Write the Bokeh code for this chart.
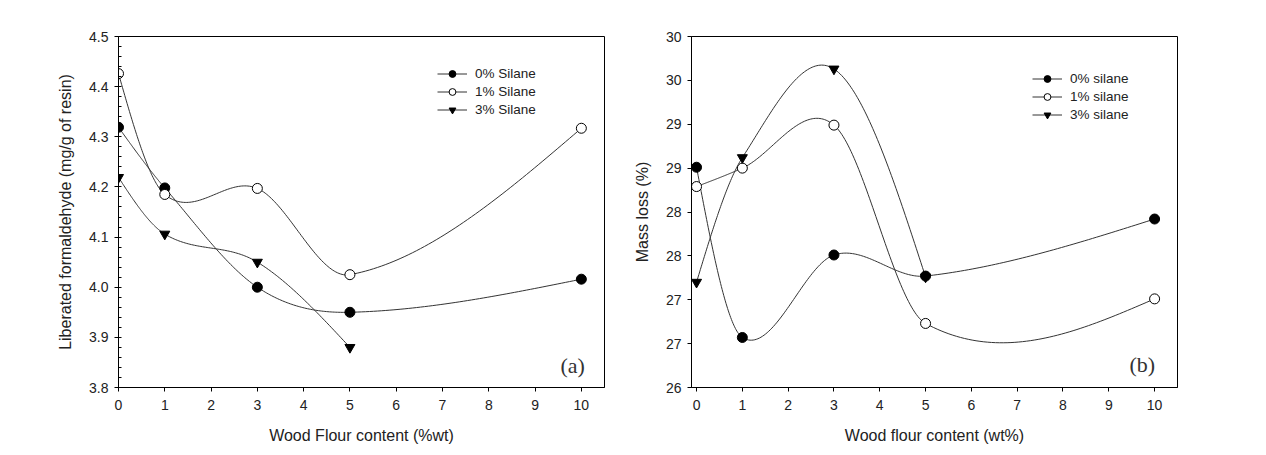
import numpy as np
from bokeh.plotting import figure
from bokeh.layouts import row
from bokeh.models import (Range1d, FixedTicker, Legend, LegendItem, Label)
from bokeh.embed import file_html
from bokeh.resources import INLINE

# ---------------- data ----------------
wood_flour = [0, 1, 3, 5, 10]
wood_flour_3 = [0, 1, 3, 5]

# panel (a): liberated formaldehyde (mg/g of resin)
a_silane0 = [4.319, 4.198, 4.000, 3.950, 4.016]
a_silane1 = [4.426, 4.185, 4.197, 4.025, 4.317]
a_silane3 = [4.219, 4.106, 4.050, 3.880]
a_labels = ["0% Silane", "1% Silane", "3% Silane"]

# panel (b): mass loss (%)
b_silane0 = [28.51, 26.57, 27.51, 27.27, 27.92]
b_silane1 = [28.29, 28.50, 28.99, 26.73, 27.01]
b_silane3 = [27.20, 28.62, 29.63, 27.26]
b_labels = ["0% silane", "1% silane", "3% silane"]

x_ticks = [0, 1, 2, 3, 4, 5, 6, 7, 8, 9, 10]
a_yticks = [3.8, 3.9, 4.0, 4.1, 4.2, 4.3, 4.4, 4.5]
a_ytick_labels = ["3.8", "3.9", "4.0", "4.1", "4.2", "4.3", "4.4", "4.5"]
b_yticks = [26, 26.5, 27, 27.5, 28, 28.5, 29, 29.5, 30]
b_ytick_labels = ["26", "27", "27", "28", "28", "29", "29", "30", "30"]

FONT = "Liberation Sans"
TXT = "#222222"
LINE = "#333333"


def smooth_curve(xs, ys, n=60):
    """Cubic Hermite (Catmull-Rom style) curve through the points."""
    x = np.asarray(xs, float)
    y = np.asarray(ys, float)
    k = len(x)
    m = np.zeros(k)
    for i in range(1, k - 1):
        m[i] = (y[i + 1] - y[i - 1]) / (x[i + 1] - x[i - 1])
    d0 = (y[1] - y[0]) / (x[1] - x[0])
    d1 = (y[-1] - y[-2]) / (x[-1] - x[-2])
    m[0] = (3 * d0 - m[1]) / 2
    m[-1] = (3 * d1 - m[-2]) / 2
    out_x, out_y = [], []
    for i in range(k - 1):
        h = x[i + 1] - x[i]
        t = np.linspace(0, 1, n)
        h00 = 2 * t ** 3 - 3 * t ** 2 + 1
        h10 = t ** 3 - 2 * t ** 2 + t
        h01 = -2 * t ** 3 + 3 * t ** 2
        h11 = t ** 3 - t ** 2
        seg = h00 * y[i] + h10 * h * m[i] + h01 * y[i + 1] + h11 * h * m[i + 1]
        out_x.extend(list(x[i] + t * h))
        out_y.extend(list(seg))
    return out_x, out_y


def make_panel(width, bl, br, xr, yr, yticks, yticklabels, minor, xlabel, ylabel,
               series, labels, legend_loc, tag, tag_loc):
    p = figure(width=width, height=447, output_backend="svg", toolbar_location=None,
               x_range=Range1d(*xr), y_range=Range1d(*yr),
               min_border_left=bl, min_border_right=br,
               min_border_top=36, min_border_bottom=60)
    p.grid.visible = False
    p.outline_line_color = "black"
    p.outline_line_width = 1
    p.background_fill_color = "white"
    p.border_fill_color = "white"

    p.xaxis.ticker = FixedTicker(ticks=x_ticks)
    p.yaxis.ticker = FixedTicker(ticks=yticks, minor_ticks=minor)
    p.yaxis.major_label_overrides = {t: l for t, l in zip(yticks, yticklabels)}
    for ax in (p.xaxis[0], p.yaxis[0]):
        ax.axis_line_color = "black"
        ax.major_tick_line_color = "black"
        ax.minor_tick_line_color = "black"
        ax.major_tick_out = 4
        ax.major_tick_in = 0
        ax.minor_tick_out = 0
        ax.minor_tick_in = 3
        ax.major_label_text_font = FONT
        ax.major_label_text_font_size = "14px"
        ax.major_label_text_color = TXT
        ax.axis_label_text_font = FONT
        ax.axis_label_text_font_size = "16px"
        ax.axis_label_text_font_style = "normal"
        ax.axis_label_text_color = TXT
        ax.major_label_standoff = 6
        ax.axis_label_standoff = 12
    p.xaxis.major_label_standoff = 8
    p.xaxis.axis_label_standoff = 14
    p.xaxis.minor_tick_line_color = None
    p.xaxis.axis_label = xlabel
    p.yaxis.axis_label = ylabel

    styles = [
        dict(marker="circle", fill_color="black"),
        dict(marker="circle", fill_color="white"),
        dict(marker="inverted_triangle", fill_color="black"),
    ]
    lines = []
    for (xs, ys) in series:
        sx, sy = smooth_curve(xs, ys)
        lines.append(p.line(sx, sy, line_color=LINE, line_width=1))
    legend_items = []
    for (xs, ys), lab, st, ln in zip(series, labels, styles, lines):
        sc = p.scatter(xs, ys, marker=st["marker"], size=10,
                       fill_color=st["fill_color"], line_color="black", line_width=1)
        legend_items.append(LegendItem(label=lab, renderers=[ln, sc]))

    leg = Legend(items=legend_items, location=legend_loc, orientation="vertical",
                 border_line_color=None, background_fill_alpha=0, padding=0,
                 spacing=1, glyph_width=30, glyph_height=17, label_height=17,
                 label_standoff=8, label_text_font=FONT,
                 label_text_font_size="13.5px", label_text_color=TXT, margin=0)
    p.add_layout(leg, "center")

    p.add_layout(Label(x=tag_loc[0], y=tag_loc[1], x_units="screen", y_units="screen",
                       text=tag, text_font="Liberation Serif", text_font_size="22px",
                       text_color="#333333"))
    return p


a_minor = [round(3.8 + 0.02 * i, 2) for i in range(36)]

p1 = make_panel(628, 118, 24, (0, 10.5), (3.8, 4.5), a_yticks, a_ytick_labels, a_minor,
                "Wood Flour content (%wt)", "Liberated formaldehyde (mg/g of resin)",
                [(wood_flour, a_silane0), (wood_flour, a_silane1), (wood_flour_3, a_silane3)],
                a_labels, (319, 269), "(a)", (442, 10))
p2 = make_panel(622, 63, 73, (-0.11, 10.5), (26, 30), b_yticks, b_ytick_labels, [],
                "Wood flour content (wt%)", "Mass loss (%)",
                [(wood_flour, b_silane0), (wood_flour, b_silane1), (wood_flour_3, b_silane3)],
                b_labels, (341, 264), "(b)", (438, 11))

layout = row(p1, p2)
open("out.html", "w").write(file_html(layout, INLINE))
